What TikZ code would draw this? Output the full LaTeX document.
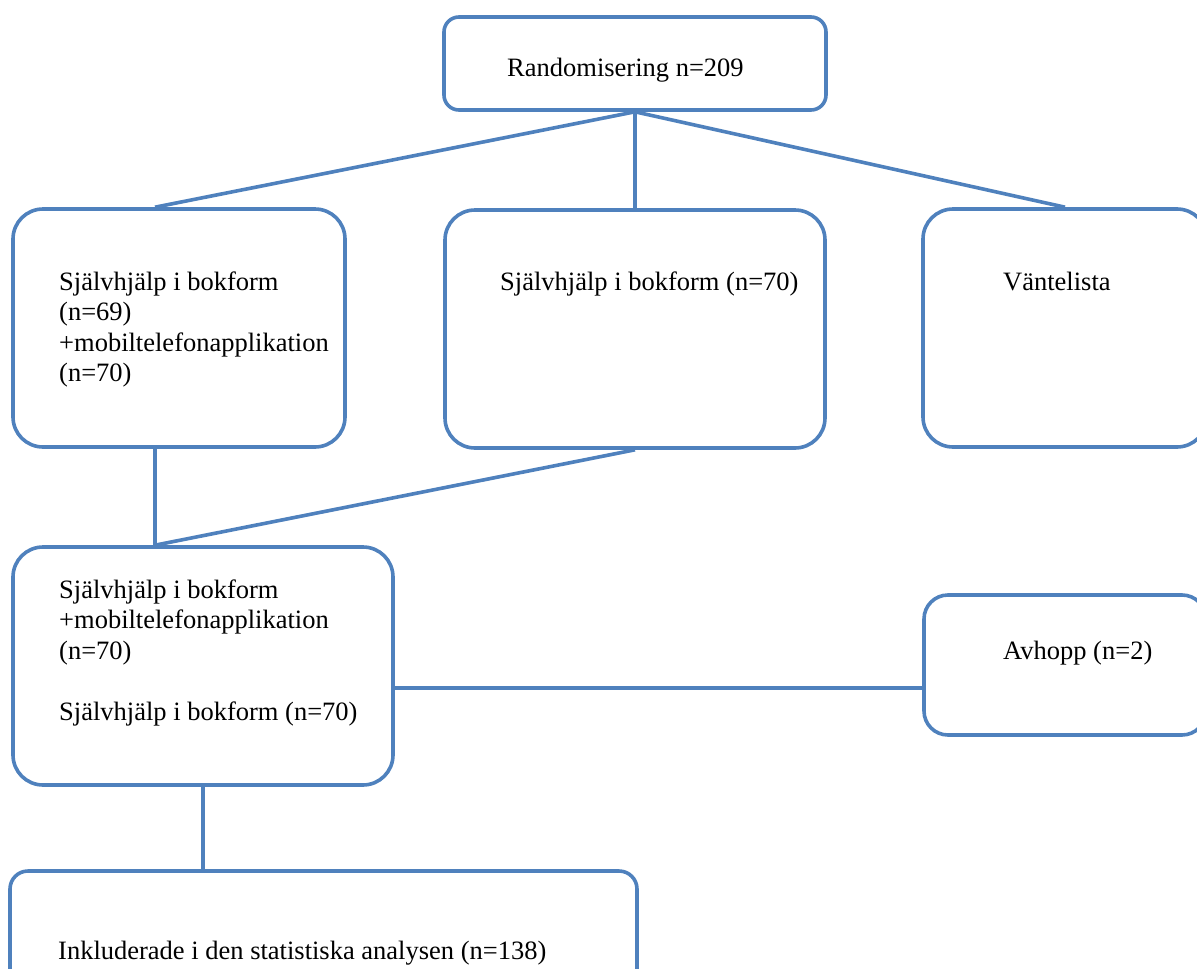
\documentclass[tikz,border=0pt]{standalone}
\usepackage{fontspec}
\setmainfont{Liberation Serif}
\definecolor{boxblue}{RGB}{79,129,189}
\begin{document}
\begin{tikzpicture}[x=1pt,y=-1pt,
  box/.style={rectangle,draw=boxblue,line width=3.6pt,rounded corners=30pt,inner sep=0pt},
  lbl/.style={inner sep=0pt,anchor=base west,align=left,font=\fontsize{26.5}{30.5}\selectfont},
  link/.style={draw=boxblue,line width=3.6pt}]
\useasboundingbox (0,0) rectangle (1197,969);
\clip (0,0) rectangle (1197,969);
%\draw[help lines, step=100pt] (0,0) grid (1197,969);
\node[box,rounded corners=15pt,minimum width=382pt,minimum height=93pt](rand) at (635,63.5) {};
\node[box,minimum width=332pt,minimum height=238pt](bokapp) at (179,328) {};
\node[box,minimum width=380pt,minimum height=238pt](bok) at (635,329) {};
\node[box,minimum width=284pt,minimum height=238pt](vlista) at (1065,328) {};
\node[box,minimum width=380pt,minimum height=238pt](combo) at (203,666) {};
\node[box,rounded corners=24pt,minimum width=282pt,minimum height=140pt](avhopp) at (1065,665) {};
\node[box,rounded corners=18pt,minimum width=627pt,minimum height=139pt](incl) at (323.5,940.5) {};

% multi-line labels sit on their last baseline
\node[lbl](rand-txt) at (507,76) {Randomisering n=209};
\node[lbl](bokapp-txt) at (59,381.5) {Självhjälp i bokform\\(n=69)\\+mobiltelefonapplikation\\(n=70)};
\node[lbl](bok-txt) at (500,290) {Självhjälp i bokform (n=70)};
\node[lbl](vlista-txt) at (1003,290) {Väntelista};
\node[lbl](combo-txt) at (59,720) {Självhjälp i bokform\\+mobiltelefonapplikation\\(n=70)\\[30.5pt]Självhjälp i bokform (n=70)};
\node[lbl](avhopp-txt) at (1003,659) {Avhopp (n=2)};
\node[lbl](incl-txt) at (58,959) {Inkluderade i den statistiska analysen (n=138)};

\draw[link](rand.south)--([xshift=-24pt]bokapp.north);
\draw[link](rand.south)--(bok.north);
\draw[link](rand.south)--(vlista.north);
\draw[link]([xshift=-24pt]bokapp.south)--([xshift=-48pt]combo.north);
\draw[link](bok.south)--([xshift=-48pt]combo.north);
\draw[link]([yshift=-22pt]combo.east)--([yshift=-22pt]combo.east -| avhopp.west);
\draw[link](combo.south)--(combo.south |- incl.north);
\end{tikzpicture}
\end{document}
